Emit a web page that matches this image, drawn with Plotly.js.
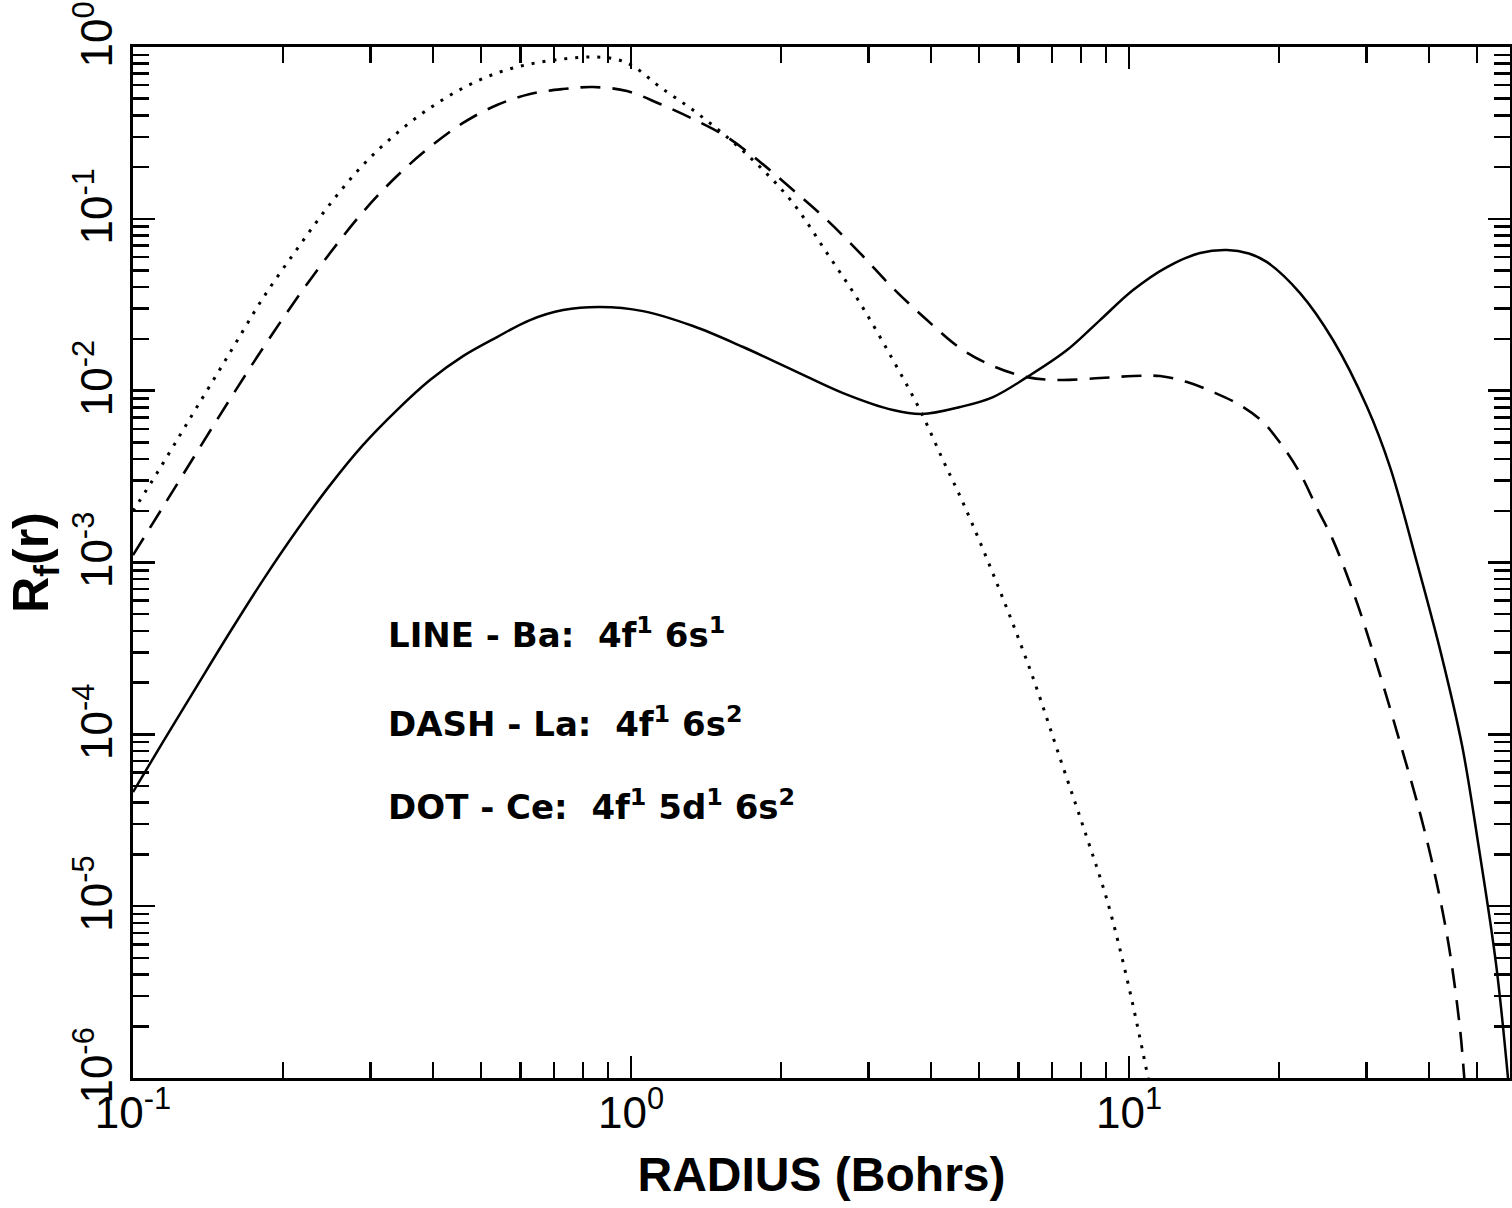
<!DOCTYPE html>
<html>
<head>
<meta charset="utf-8">
<script src="https://cdn.plot.ly/plotly-3.0.1.min.js"></script>
<style>
  html, body { margin: 0; padding: 0; background: #ffffff; }
  #chart { width: 1512px; height: 1208px; }
</style>
</head>
<body>
<div id="chart"></div>
<script>
// ---- Data (radius in Bohrs, R_f(r)) ----
// LINE - Ba: 4f1 6s1
const radiusBa = [0.1, 0.1148, 0.1344, 0.1566, 0.1824, 0.2135, 0.2487, 0.2895, 0.3389, 0.3948,
  0.4599, 0.5382, 0.6270, 0.7304, 0.8665, 1.057, 1.332, 1.679, 2.115, 2.666,
  3.358, 3.839, 4.577, 5.333, 6.240, 7.508, 8.747, 10.19, 11.92, 13.89,
  15.73, 17.4, 18.93, 22.05, 25.68, 30.06, 33.43, 37.87, 42.32, 46.64, 50.45,
  54.58, 57.68];
const rfBa = [4.61e-5, 9.01e-5, 1.91e-4, 3.94e-4, 7.90e-4, 1.545e-3, 2.82e-3, 4.82e-3, 7.71e-3, 0.01153,
  0.01589, 0.02051, 0.02576, 0.02944, 0.03069, 0.02904, 0.02377, 0.01795, 0.01318, 9.68e-3,
  7.71e-3, 7.31e-3, 8.03e-3, 9.18e-3, 0.01199, 0.01723, 0.02576, 0.03852, 0.05242, 0.0632,
  0.0658, 0.0628, 0.0560, 0.03698, 0.01972, 8.03e-3, 3.59e-3, 9.95e-4, 2.95e-4, 8.6e-5, 2.15e-5,
  4.6e-6, 9.97e-7];

// DASH - La: 4f1 6s2
const radiusLa = [0.1, 0.1148, 0.1344, 0.1566, 0.1824, 0.2135, 0.2487, 0.2895, 0.3389, 0.3948,
  0.4599, 0.5382, 0.6270, 0.7304, 0.8388, 0.9817, 1.144, 1.332, 1.559, 1.816,
  2.115, 2.475, 2.883, 3.358, 3.929, 4.577, 5.333, 6.240, 7.268, 8.747,
  10.19, 11.54, 13.08, 14.75, 16.71, 18.58, 20.39, 22.05, 23.85, 25.68,
  28.57, 31.48, 34.85, 38.40, 41.36, 43.92, 46.21, 47.07, 47.51];
const rfLa = [1.104e-3, 2.10e-3, 4.39e-3, 8.93e-3, 0.0177, 0.0346, 0.0632, 0.1096, 0.1775, 0.2618,
  0.3614, 0.4597, 0.5327, 0.5693, 0.5848, 0.5543, 0.4656, 0.3811, 0.2992, 0.2143,
  0.1472, 0.0984, 0.0632, 0.0395, 0.02576, 0.0177, 0.01390, 0.01199, 0.01153, 0.01184,
  0.01216, 0.01216, 0.01122, 9.81e-3, 8.24e-3, 6.56e-3, 4.70e-3, 3.31e-3, 2.07e-3, 1.35e-3,
  6.04e-4, 2.53e-4, 9.37e-5, 3.48e-5, 1.42e-5, 5.77e-6, 1.92e-6, 1.04e-6, 7.43e-7];

// DOT - Ce: 4f1 5d1 6s2
const radiusCe = [0.1, 0.1117, 0.1243, 0.1344, 0.1475, 0.1617, 0.1824, 0.2135, 0.2487, 0.2895,
  0.3389, 0.3948, 0.4599, 0.5382, 0.6270, 0.7304, 0.8388, 0.9288, 1.009, 1.144,
  1.332, 1.559, 1.816, 2.115, 2.475, 2.883, 3.358, 3.805, 4.232, 4.664,
  5.457, 6.356, 7.303, 8.199, 9.034, 9.954, 10.92, 11.17];
const rfCe = [1.99e-3, 3.31e-3, 5.52e-3, 8.03e-3, 0.0125, 0.01945, 0.0346, 0.0667, 0.1219, 0.2056,
  0.3157, 0.4416, 0.5771, 0.7060, 0.7962, 0.8515, 0.8747, 0.8515, 0.775, 0.5848,
  0.4295, 0.2992, 0.2004, 0.1236, 0.0632, 0.03236, 0.01507, 7.71e-3, 3.94e-3, 2.16e-3,
  7.29e-4, 2.30e-4, 6.98e-5, 2.59e-5, 1.084e-5, 3.56e-6, 1.0e-6, 6.95e-7];

// ---- Tick labels ----
const xDecades = [0.1, 1, 10];
const xTickText = ['10<sup>-1</sup>', '10<sup>0</sup>', '10<sup>1</sup>'];
const yDecades = [1e-6, 1e-5, 1e-4, 1e-3, 1e-2, 1e-1, 1];
const yTickText = ['10<sup>-6</sup>', '10<sup>-5</sup>', '10<sup>-4</sup>', '10<sup>-3</sup>',
  '10<sup>-2</sup>', '10<sup>-1</sup>', '10<sup>0</sup>'];

const annotationLines = [
  'LINE - Ba:\u00a0\u00a04f<sup>1</sup> 6s<sup>1</sup>',
  'DASH - La:\u00a0\u00a04f<sup>1</sup> 6s<sup>2</sup>',
  'DOT - Ce:\u00a0\u00a04f<sup>1</sup> 5d<sup>1</sup> 6s<sup>2</sup>'
];

// minor tick positions (2..9 within each decade)
function minorTicks(decades) {
  const out = [];
  decades.forEach(d => { for (let k = 2; k <= 9; k++) out.push(d * k); });
  return out;
}
const xMinor = minorTicks([0.1, 1, 10]).filter(v => v < 58);
const yMinor = minorTicks([1e-6, 1e-5, 1e-4, 1e-3, 1e-2, 1e-1]);

const tickFont = { family: '"Liberation Sans", Arial, sans-serif', size: 44, color: '#000' };
const titleFont = { family: '"Liberation Sans", Arial, sans-serif', size: 48, color: '#000', weight: 'bold' };

const traces = [
  { x: radiusBa, y: rfBa, type: 'scatter', mode: 'lines', name: 'Ba',
    line: { color: '#000', width: 2.5, shape: 'spline', smoothing: 1 } },
  { x: radiusLa, y: rfLa, type: 'scatter', mode: 'lines', name: 'La',
    line: { color: '#000', width: 2.6, dash: '20px,12px', shape: 'spline', smoothing: 1 } },
  { x: radiusCe, y: rfCe, type: 'scatter', mode: 'lines', name: 'Ce',
    line: { color: '#000', width: 3, dash: '3px,8px', shape: 'spline', smoothing: 1 } }
];

const annotations = annotationLines.map((t, i) => ({
  text: t, xref: 'paper', yref: 'paper', x: 0.184, y: [0.4316, 0.3453, 0.2648][i],
  xanchor: 'left', yanchor: 'middle', showarrow: false,
  font: { family: '"DejaVu Sans", sans-serif', size: 34, color: '#000', weight: 'bold' }
}));

const layout = {
  width: 1512, height: 1208,
  margin: { l: 133, r: 2, t: 47, b: 130 },
  paper_bgcolor: '#fff', plot_bgcolor: '#fff',
  showlegend: false,
  xaxis: {
    type: 'log', range: [-1, 1.765],
    showgrid: false, zeroline: false,
    showline: true, linecolor: '#000', linewidth: 3, mirror: 'ticks',
    ticks: 'inside', ticklen: 22, tickwidth: 2.5, tickcolor: '#000',
    tickmode: 'array', tickvals: xDecades, ticktext: xTickText,
    tickfont: tickFont, ticklabelstandoff: -6,
    minor: { tickmode: 'array', tickvals: xMinor, ticks: 'inside', ticklen: 16, tickwidth: 2.5, tickcolor: '#000' },
    title: { text: 'RADIUS (Bohrs)', font: titleFont, standoff: 22 }
  },
  yaxis: {
    type: 'log', range: [-6, 0],
    showgrid: false, zeroline: false,
    showline: true, linecolor: '#000', linewidth: 3, mirror: 'ticks',
    ticks: 'inside', ticklen: 22, tickwidth: 2.5, tickcolor: '#000',
    tickmode: 'array', tickvals: yDecades, ticktext: yTickText,
    tickangle: -90, tickfont: tickFont, ticklabelshift: -6, ticklabeloverflow: 'allow',
    minor: { tickmode: 'array', tickvals: yMinor, ticks: 'inside', ticklen: 16, tickwidth: 2.5, tickcolor: '#000' },
    title: { text: 'R<sub>f</sub>(r)', font: { ...titleFont, size: 50 }, standoff: 0 }
  },
  annotations: annotations
};

Plotly.newPlot('chart', traces, layout, { staticPlot: true, displayModeBar: false });
</script>
</body>
</html>
